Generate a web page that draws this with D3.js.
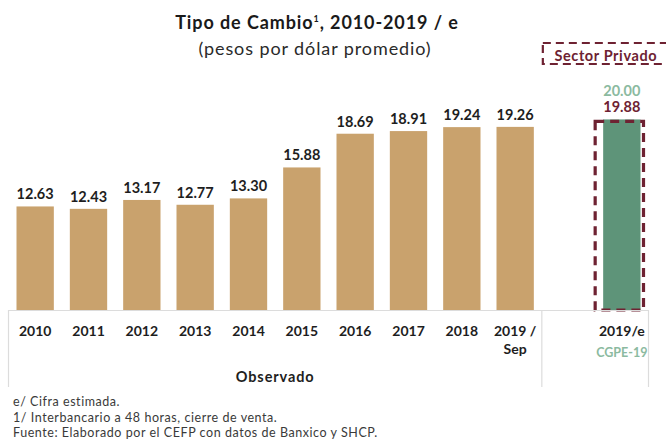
<!DOCTYPE html>
<html>
<head>
<meta charset="utf-8">
<script src="https://cdn.jsdelivr.net/npm/d3@7"></script>
<style>
  html, body { margin: 0; padding: 0; background: #ffffff; }
  svg { display: block; font-family: Lato, "Open Sans", sans-serif; }
</style>
</head>
<body>
<div id="chart"></div>
<script>
// Observed yearly averages (pesos per dollar)
const years = ["2010", "2011", "2012", "2013", "2014", "2015", "2016", "2017", "2018", "2019 /\nSep"];
const observed = [12.63, 12.43, 13.17, 12.77, 13.30, 15.88, 18.69, 18.91, 19.24, 19.26];

// 2019 estimate: CGPE-19 and private-sector survey
const estimateCategory = "2019/e";
const estimateSource = "CGPE-19";
const estimateCGPE = 19.88;
const estimatePrivate = 20.00;

const titleText = "Tipo de Cambio";
const subtitleText = "(pesos por dólar promedio)";
const groupLabel = "Observado";
const privateLabel = "Sector Privado";
const notes = [
  "e/ Cifra estimada.",
  "1/ Interbancario a 48 horas, cierre de venta.",
  "Fuente: Elaborado por el CEFP con datos de Banxico y SHCP."
];

const W = 666, H = 448;
const baseY = 310;
const tan = "#c9a26d", green = "#5e9479", maroon = "#6e2232", lightGreen = "#8bbaa0";
const gridGray = "#dcdcdc";

const svg = d3.select("#chart").append("svg")
  .attr("width", W).attr("height", H);

// One slot per observed year, an empty slot, then the estimate
const spacer = "__gap";
const domain = years.concat([spacer, estimateCategory]);
const x = d3.scaleBand().domain(domain).range([8.5, 648.5])
  .paddingInner(0.3).paddingOuter(0.15);
const y = d3.scaleLinear().domain([4, 20]).range([baseY, 118]);
const slotPad = x.step() * 0.15;

// Title block
const title = svg.append("text").attr("x", 317).attr("y", 29)
  .attr("text-anchor", "middle").attr("font-size", 18).attr("font-weight", 700)
  .attr("letter-spacing", 0.9).attr("fill", "#1a1a1a");
title.append("tspan").text(titleText);
title.append("tspan").text("1").attr("font-size", 9).attr("dy", -7);
title.append("tspan").text(", 2010-2019 / e").attr("dy", 7);

svg.append("text").attr("x", 315).attr("y", 55)
  .attr("text-anchor", "middle").attr("font-size", 18).attr("letter-spacing", 0.9)
  .attr("fill", "#2a2a2a").text(subtitleText);

// Observed bars
svg.append("g").selectAll("rect").data(observed).join("rect")
  .attr("x", (d, i) => x(years[i]))
  .attr("width", x.bandwidth())
  .attr("y", d => y(d))
  .attr("height", d => baseY - y(d))
  .attr("fill", tan);

svg.append("g").selectAll("text").data(observed).join("text")
  .attr("x", (d, i) => x(years[i]) + x.bandwidth() / 2)
  .attr("y", d => y(d) - 7)
  .attr("text-anchor", "middle").attr("font-size", 14.5).attr("font-weight", 700)
  .attr("fill", "#1e1e1e")
  .text(d => d.toFixed(2));

// Estimate bar
const ex = x(estimateCategory), ew = x.bandwidth();
svg.append("rect")
  .attr("x", ex).attr("width", ew)
  .attr("y", y(estimateCGPE)).attr("height", baseY - y(estimateCGPE))
  .attr("fill", green);

svg.append("rect")
  .attr("x", ex - 8).attr("width", ew + 11)
  .attr("y", y(estimateCGPE) + 2).attr("height", baseY - y(estimateCGPE) - 2)
  .attr("fill", "none").attr("stroke", maroon).attr("stroke-width", 3.2)
  .attr("stroke-dasharray", "9,6");

svg.append("text")
  .attr("x", ex + ew / 2).attr("y", y(estimateCGPE) - 7)
  .attr("text-anchor", "middle").attr("font-size", 14.5).attr("font-weight", 700)
  .attr("fill", maroon).text(estimateCGPE.toFixed(2));

svg.append("text")
  .attr("x", ex + ew / 2).attr("y", y(estimatePrivate) - 22)
  .attr("text-anchor", "middle").attr("font-size", 14.5).attr("font-weight", 700)
  .attr("fill", lightGreen).text(estimatePrivate.toFixed(2));

// Private-sector tag
const sepX = x(spacer) - slotPad;
svg.append("rect")
  .attr("x", sepX + 1).attr("y", 43).attr("width", 140).attr("height", 21)
  .attr("fill", "none").attr("stroke", maroon).attr("stroke-width", 2.2)
  .attr("stroke-dasharray", "8,5");
svg.append("text")
  .attr("x", ex + ew / 2 - 16).attr("y", 61)
  .attr("text-anchor", "middle").attr("font-size", 14.5).attr("font-weight", 700)
  .attr("letter-spacing", 0.6).attr("fill", maroon).text(privateLabel);

// Category axis along the baseline
const axis = d3.axisBottom(x).tickSize(0).tickSizeOuter(0).tickFormat(() => "");
const gx = svg.append("g").attr("transform", `translate(0,${baseY})`).call(axis);
gx.select(".domain").attr("stroke", gridGray).attr("stroke-width", 1.2);

gx.selectAll(".tick").each(function (d) {
  const t = d3.select(this).select("text")
    .attr("y", 0).attr("dy", null)
    .attr("font-family", "Lato, sans-serif").attr("font-size", 14)
    .attr("font-weight", 700).attr("fill", "#1e1e1e");
  if (d === spacer) return;
  if (d === estimateCategory) {
    t.append("tspan").attr("x", 0).attr("y", 26).text(estimateCategory);
    t.append("tspan").attr("x", 0).attr("y", 47).attr("fill", lightGreen)
      .attr("font-size", 12.5).text(estimateSource);
    return;
  }
  d.split("\n").forEach((line, k) => {
    t.append("tspan").attr("x", 0).attr("y", 26 + k * 18).text(line);
  });
});

// Group frame lines below the baseline
const frameX = [x.range()[0], sepX, x.range()[1]];
svg.append("g").selectAll("line").data(frameX).join("line")
  .attr("x1", d => d).attr("x2", d => d)
  .attr("y1", baseY).attr("y2", 387)
  .attr("stroke", gridGray).attr("stroke-width", 1.2);

svg.append("text")
  .attr("x", (x.range()[0] + sepX) / 2).attr("y", 382)
  .attr("text-anchor", "middle").attr("font-size", 14.5).attr("font-weight", 700)
  .attr("letter-spacing", 0.9).attr("fill", "#1e1e1e").text(groupLabel);

// Footnotes
svg.append("g").selectAll("text").data(notes).join("text")
  .attr("x", 13).attr("y", (d, i) => 406 + i * 15.5)
  .attr("font-size", 12.5).attr("letter-spacing", 0.55).attr("fill", "#3a3a3a")
  .text(d => d);
</script>
</body>
</html>
